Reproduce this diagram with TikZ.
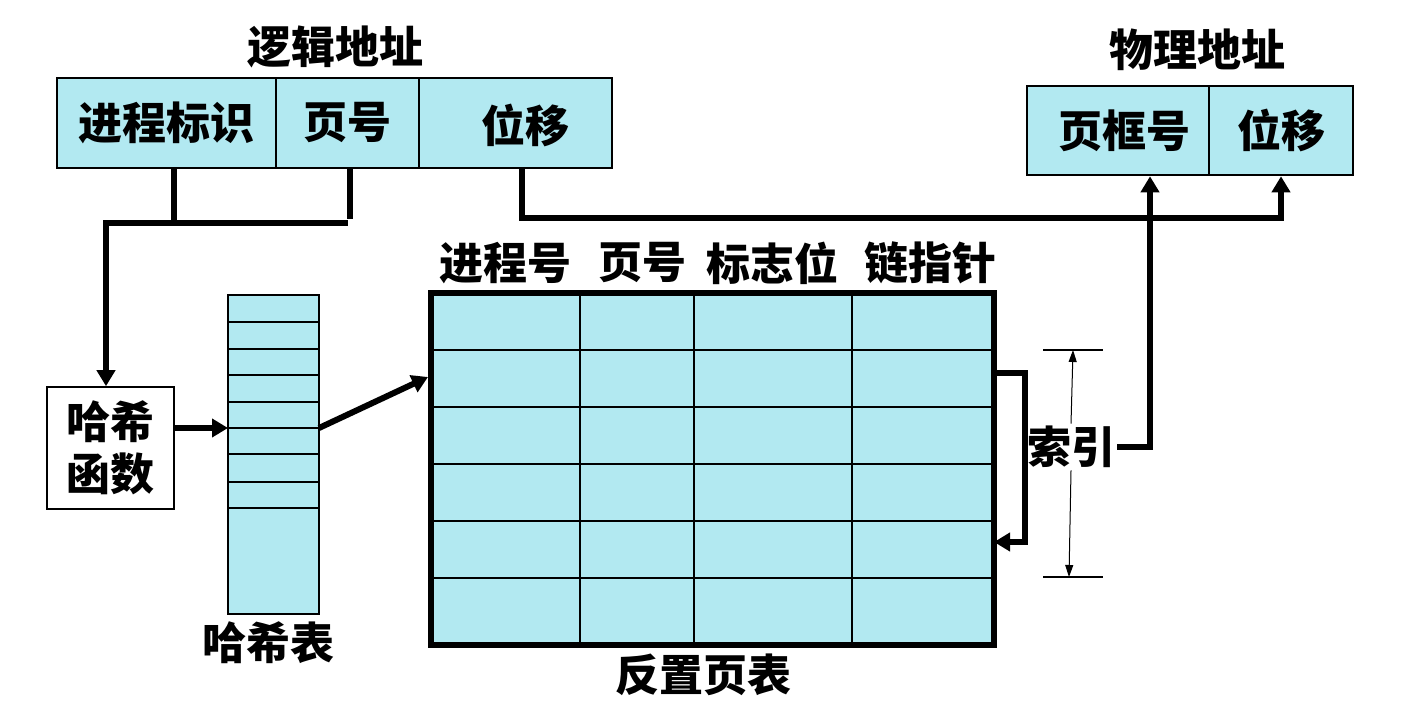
\documentclass[tikz,border=0pt]{standalone}
\usepackage{fontspec}
\newfontfamily\cjk{Noto Sans CJK SC}
\usetikzlibrary{arrows.meta}
\definecolor{cellblue}{RGB}{178,233,241}

\tikzset{
  cell/.style={draw, line width=1.3pt, fill=cellblue, inner sep=0pt},
  txt/.style={inner sep=1pt},
  conn/.style={line width=3pt},
  arr/.style={conn, -{Triangle[length=8pt,width=9pt]}},
  thinarr/.style={line width=0.5pt, -{Triangle[length=6pt,width=4pt]}},
  tick/.style={line width=1pt}
}

\begin{document}
\begin{tikzpicture}[x=0.5pt, y=-0.5pt, font=\cjk\bfseries\fontsize{22}{26}\selectfont]
\useasboundingbox (0,0) rectangle (1417,717);

% Logical address
\node[txt] (ltitle) at (335,47) {逻辑地址};
\node[cell, minimum width=109.5pt, minimum height=45pt] (pid) at (166.5,123) {进程标识};
\node[cell, minimum width=71.5pt, minimum height=45pt] (page) at (347.5,123) {页号};
\node[cell, minimum width=96.5pt, minimum height=45pt, text depth=0pt] (off) at (515.5,123) {\hspace{10pt}位移};

% Physical address
\node[txt] (ptitle) at (1197,50) {物理地址};
\node[cell, minimum width=91pt, minimum height=44.5pt] (pframe) at (1118,130.5) {\hspace{6pt}页框号};
\node[cell, minimum width=72pt, minimum height=44.5pt] (poff) at (1281,130.5) {位移};

% Hash function
\node[draw, line width=0.8pt, fill=white, minimum width=63.5pt, minimum height=61pt,
      align=center, inner sep=0pt] (hashfn) at (110.5,448) {哈希\\函数};

% Hash table
\node[draw, line width=0.7pt, fill=cellblue, minimum width=45.5pt, minimum height=159.5pt,
      inner sep=0pt] (htab) at (273.5,454.5) {};
\foreach \y in {322,349,375,402,428,454,482,508}
  \draw[line width=0.7pt] (htab.west |- 0,\y) -- (htab.east |- 0,\y);
\node[txt] (hlabel) at (268,643) {哈希表};

% Inverted page table
\node[fill=cellblue, minimum width=281.5pt, minimum height=176pt, inner sep=0pt] (ipt) at (712.5,469) {};
\foreach \x in {580,694,852}
  \draw[line width=0.8pt] (ipt.north -| \x,0) -- (ipt.south -| \x,0);
\foreach \y in {350,407,464,521,578}
  \draw[line width=0.8pt] (ipt.west |- 0,\y) -- (ipt.east |- 0,\y);
\draw[line width=3pt] (ipt.north west) rectangle (ipt.south east);
\node[txt] (hpid) at (505,263) {进程号};
\node[txt] (hpage) at (642,263) {页号};
\node[txt] (hflag) at (772,263) {标志位};
\node[txt] (hnext) at (930,263) {链指针};
\node[txt] (ilabel) at (703,675) {反置页表};

% Index
\node[txt] (idx) at (1071,447) {索引};
\draw[tick] (1043,350) -- (1103,350);
\draw[tick] (1043,577) -- (1103,577);
\draw[thinarr] (idx.north) -- (1073,350);
\draw[thinarr] (idx.south) -- (1069,577);

% Connectors
\coordinate (bus) at (106,223);
\draw[conn] ([xshift=3.75pt]pid.south) -- ([xshift=3.75pt]pid.south |- bus);
\draw[conn] ([xshift=1.25pt]page.south) -- ++(0,50);
\draw[conn] ([xshift=-1.5pt]bus) -- (page.south |- bus);
\draw[arr] (bus) -- (bus |- hashfn.north);
\draw[arr] ([xshift=3.25pt]off.south) |- (poff.south |- 0,218) -- (poff.south);

\coordinate (hit) at (228,428);
\coordinate (hout) at (319,428);
\coordinate (rowin) at (428,377);
\draw[arr] (hit -| hashfn.east) -- (hit);
\draw[arr] (hout) -- (rowin);

\coordinate (cpout) at (994,373);
\coordinate (cpin) at (994,542);
\draw[arr] (cpout) -- ++(31,0) |- (cpin);

\draw[arr] (idx.east) -| ([xshift=16pt]pframe.south);

\end{tikzpicture}
\end{document}
